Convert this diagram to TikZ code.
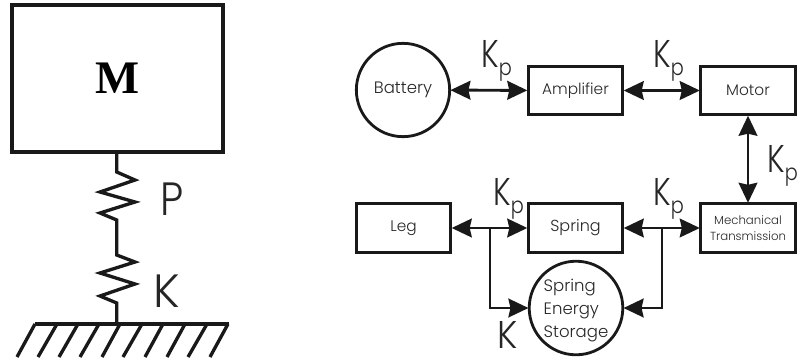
\documentclass[tikz,border=0pt]{standalone}
\usepackage{fontspec}
\setmainfont{Poppins}[UprightFont=* Light]
\newfontfamily\mfont{Liberation Serif}
\usetikzlibrary{arrows.meta}
\newcommand{\Kp}{\fontsize{29}{29}\selectfont\scalebox{0.8}[1]{K}\raisebox{-6pt}{\fontsize{17}{17}\selectfont\scalebox{0.85}[1]{p}}}
\tikzset{
  x=0.75pt,y=-0.75pt,
  block/.style={draw=black!90,line width=2.3pt,inner sep=0pt,minimum width=71pt,minimum height=36.5pt,align=center,font=\fontsize{11.5}{11.5}\selectfont,text=black!85},
  tank/.style={draw=black!90,line width=2.1pt,circle,inner sep=0pt,minimum size=70pt,font=\fontsize{12.4}{17.2}\selectfont,text=black!85},
  link/.style={line width=2.2pt,draw=black!90},
  both/.style={link,{Stealth[length=15pt,width=14pt,inset=1.5pt]}-{Stealth[length=15pt,width=14pt,inset=1.5pt]},shorten <=-0.5pt,shorten >=-0.5pt},
  one/.style={link,-{Stealth[length=15pt,width=14pt,inset=1.5pt]},shorten >=-0.5pt},
  mech/.style={line width=2.5pt,draw=black!90},
  lab/.style={inner sep=0pt,anchor=base west,text=black!85},
  big/.style={inner sep=0pt,anchor=base west,text=black!85,font=\fontsize{35}{35}\selectfont},
}
\begin{document}
\begin{tikzpicture}
\useasboundingbox (0,0) rectangle (798,360);
% left mass-spring
\node[draw=black!90,line width=3pt,minimum width=158.6pt,minimum height=110.3pt,inner sep=0pt,font=\mfont\bfseries\fontsize{35}{35}\selectfont] (mass) at (117.5,78.5) {M};
\coordinate (ga) at (35,324); \coordinate (gb) at (228.5,324);
\coordinate (gc) at (116.7,324);
\draw[mech,line join=miter] (mass.south -| gc) -- (116.7,172) -- (135,180) -- (100,192) -- (135,202) -- (100,213) -- (116.7,220) -- (116.7,255) -- (135,262) -- (100,273) -- (135,284) -- (100,296) -- (116.7,303) -- (gc);
\draw[mech] (ga) -- (gb);
\foreach \t/\b in {35/17,57/38,78/59,99/80,120/102,142/123,163/145,185/167,207/188,228/210}
  \draw[mech] (\t,324) -- (\b,357);
\node[big] (labP) at (160,215) {\scalebox{0.88}[1]{P}};
\node[big] (labK) at (153,307) {K};
% blocks
\node[tank] (batt) at (403,90) {Battery};
\node[block] (amp) at (575.5,90.5) {Amplifier};
\node[block] (motor) at (748,90.5) {Motor};
\node[block] (leg) at (403.5,228) {Leg};
\node[block,font=\fontsize{12}{12}\selectfont] (spring) at (575.5,228) {Spring};
\node[block,font=\fontsize{8.8}{12.5}\selectfont] (trans) at (748,228) {Mechanical\\Transmission};
\node[tank,align=left] (store) at (576,308) {\rule{0pt}{13pt}Spring\\Energy\\Storage};
% connectors
\draw[both] (batt) -- (amp);
\draw[both] (amp) -- (motor);
\draw[both] (motor) -- (trans);
\draw[both] (leg) -- (spring);
\draw[both] (spring) -- (trans);
\coordinate (ja) at (490,228); \coordinate (jb) at (662,228);
\draw[one] (ja) |- (store);
\draw[one] (jb) |- (store);
% labels
\node[lab] (k1) at (481,67) {\Kp};
\node[lab] (k2) at (653,67) {\Kp};
\node[lab] (k3) at (767,172) {\Kp};
\node[lab] (k4) at (493,205) {\Kp};
\node[lab] (k5) at (653,205) {\Kp};
\node[lab,font=\fontsize{29}{29}\selectfont] (k6) at (497,348) {\scalebox{0.92}[1]{K}};
\end{tikzpicture}
\end{document}
